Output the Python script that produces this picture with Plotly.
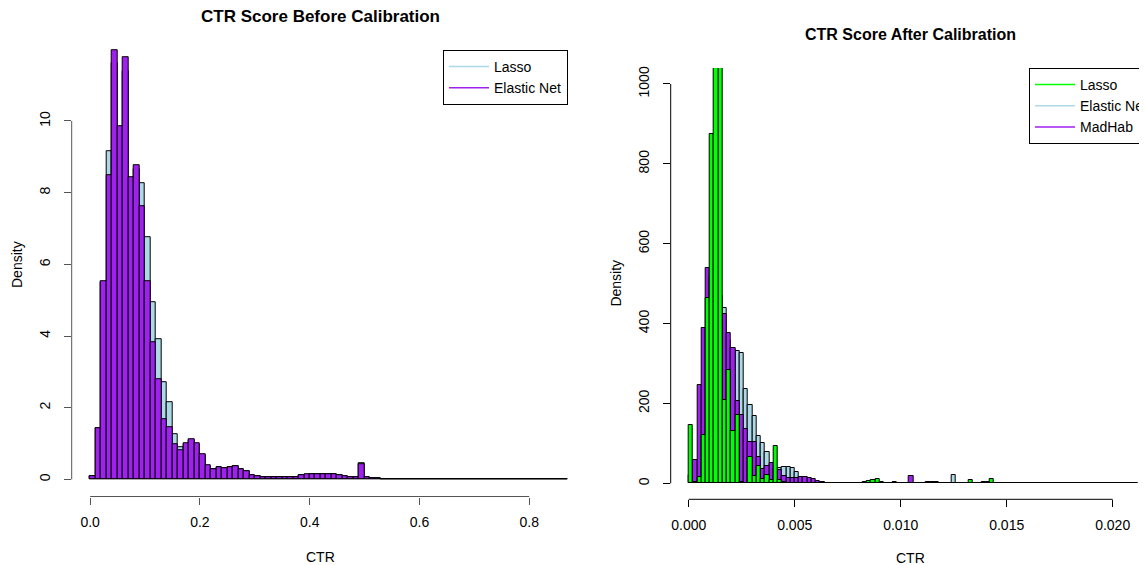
import plotly.graph_objects as go

W, H = 1147, 565
# the page body adds an 8 px margin; positions below are reference pixels,
# converted to figure coordinates by subtracting this offset
OX, OY = 8, 8

# ---------------- data ----------------
# Left panel: CTR score before calibration, bins of width 0.01 starting at 0
LEFT_BIN = 0.01
left_lasso = [
    0.09, 1.42, 5.50, 9.15, 11.60, 9.70, 11.40, 8.35, 8.65, 8.26,
    6.77, 4.93, 3.91, 2.71, 2.14, 1.27, 0.89, 0.98, 1.09, 0.98,
    0.68, 0.38, 0.28, 0.33, 0.31, 0.35, 0.36, 0.29, 0.24, 0.12,
    0.08, 0.07, 0.07, 0.07, 0.06, 0.06, 0.06, 0.07, 0.11, 0.12,
    0.13, 0.14, 0.14, 0.14, 0.13, 0.12, 0.09, 0.07, 0.07, 0.44,
    0.05, 0.03, 0.02, 0.015, 0.012, 0.010, 0.010, 0.009, 0.008, 0.008,
    0.007, 0.007, 0.006, 0.006, 0.006, 0.005, 0.005, 0.005, 0.005, 0.004,
    0.004, 0.004, 0.004, 0.004, 0.003, 0.003, 0.003, 0.003, 0.003, 0.003,
    0.003, 0.002, 0.002, 0.002, 0.002, 0.002, 0.002,
]
left_enet = [
    0.09, 1.42, 5.53, 8.49, 11.97, 9.85, 11.77, 8.44, 8.77, 7.63,
    5.53, 3.83, 2.79, 1.68, 1.46, 0.98, 0.82, 1.00, 1.12, 1.00,
    0.70, 0.39, 0.28, 0.34, 0.31, 0.35, 0.37, 0.29, 0.24, 0.11,
    0.08, 0.07, 0.07, 0.07, 0.06, 0.06, 0.06, 0.07, 0.11, 0.13,
    0.13, 0.14, 0.14, 0.14, 0.13, 0.11, 0.08, 0.07, 0.07, 0.43,
    0.05, 0.03, 0.02, 0.015, 0.012, 0.010, 0.010, 0.009, 0.008, 0.008,
    0.007, 0.007, 0.006, 0.006, 0.006, 0.005, 0.005, 0.005, 0.005, 0.004,
    0.004, 0.004, 0.004, 0.004, 0.003, 0.003, 0.003, 0.003, 0.003, 0.003,
    0.003, 0.002, 0.002, 0.002, 0.002, 0.002, 0.002,
]
left_xticks = [0.0, 0.2, 0.4, 0.6, 0.8]
left_xticktext = ["0.0", "0.2", "0.4", "0.6", "0.8"]
left_yticks = [0, 2, 4, 6, 8, 10]
left_yticktext = ["0", "2", "4", "6", "8", "10"]

# Right panel: CTR score after calibration, bins of width 0.0002 starting at 0
RIGHT_BIN = 0.0002
right_enet = [
    0, 2, 20, 120, 330, 480, 530, 470, 438, 360,
    335, 331, 327, 235, 196, 169, 118, 100, 78, 45,
    35, 39, 42, 42, 38, 28, 12, 8, 5, 4,
    3, 3, 2, 2, 2, 2, 2, 1, 1, 1,
    1, 2, 2, 2, 1, 1, 1, 1, 1, 1,
    1, 1, 1, 1, 1, 1, 4, 4, 4, 1,
    1, 1, 21, 1, 1, 1, 1, 1, 1, 1,
    1, 1, 1, 1, 1, 1, 1, 1, 1, 1,
    1, 1, 1, 1, 1, 1, 1, 1, 1, 1,
    1, 1, 1, 1, 1, 1, 1, 1, 1, 1,
    1, 1, 1, 1, 1, 1,
]
right_madhab = [
    20, 58, 246, 389, 540, 520, 470, 430, 424, 376,
    338, 205, 171, 135, 104, 104, 66, 37, 44, 52,
    38, 33, 19, 14, 14, 14, 17, 17, 14, 11,
    6, 4, 2, 2, 2, 1, 1, 1, 1, 1,
    1, 2, 2, 2, 2, 4, 1, 1, 4, 1,
    1, 1, 19, 1, 1, 1, 1, 1, 1, 1,
    1, 1, 1, 1, 1, 1, 1, 1, 1, 1,
    1, 1, 1, 1, 1, 1, 1, 1, 1, 1,
    1, 1, 1, 1, 1, 1, 1, 1, 1, 1,
    1, 1, 1, 1, 1, 1, 1, 1, 1, 1,
    1, 1, 1, 1, 1, 1,
]
right_lasso = [
    145, 4, 15, 122, 464, 875, 1150, 1150, 209, 285,
    130, 171, 4, 0, 67, 18, 44, 11, 20, 8,
    94, 8, 4, 2, 0, 0, 0, 0, 0, 0,
    0, 0, 0, 0, 0, 0, 0, 0, 0, 0,
    2, 3, 7, 8, 11, 2, 0, 0, 0, 0,
    0, 0, 0, 0, 0, 0, 0, 0, 0, 0,
    0, 0, 0, 0, 0, 0, 8, 0, 0, 4,
    4, 12, 1, 0, 0, 0, 0, 0, 0, 0,
    0, 0, 0, 0, 0, 0, 0, 0, 0, 0,
    0, 0, 0, 0, 0, 0, 0, 0, 0, 0,
    0, 0, 0, 0, 0, 0,
]
right_xticks = [0.0, 0.005, 0.010, 0.015, 0.020]
right_xticktext = ["0.000", "0.005", "0.010", "0.015", "0.020"]
right_yticks = [0, 200, 400, 600, 800, 1000]
right_yticktext = ["0", "200", "400", "600", "800", "1000"]

# ---------------- styles ----------------
LIGHTBLUE = "#ADD8E6"
PURPLE = "#A020F0"
GREEN = "#00FF00"
FONT = "Liberation Sans, Arial, Helvetica, sans-serif"
LEFT_AXIS_COLOR = "#555555"


def px(x):
    return (x - OX) / W


def py(y):
    return 1 - (y - OY) / H


def centers(vals, width):
    return [width * (i + 0.5) for i in range(len(vals))]


fig = go.Figure()

bar_line = dict(color="black", width=1)

# left panel bars (Lasso drawn first, Elastic Net on top)
fig.add_trace(go.Bar(x=centers(left_lasso, LEFT_BIN), y=left_lasso, width=LEFT_BIN,
                     marker=dict(color=LIGHTBLUE, line=bar_line),
                     xaxis="x", yaxis="y", showlegend=False, hoverinfo="skip"))
fig.add_trace(go.Bar(x=centers(left_enet, LEFT_BIN), y=left_enet, width=LEFT_BIN,
                     marker=dict(color=PURPLE, line=bar_line),
                     xaxis="x", yaxis="y", showlegend=False, hoverinfo="skip"))

# right panel bars (Elastic Net, then MadHab, then Lasso on top)
fig.add_trace(go.Bar(x=centers(right_enet, RIGHT_BIN), y=right_enet, width=RIGHT_BIN,
                     marker=dict(color=LIGHTBLUE, line=bar_line),
                     xaxis="x2", yaxis="y2", showlegend=False, hoverinfo="skip"))
fig.add_trace(go.Bar(x=centers(right_madhab, RIGHT_BIN), y=right_madhab, width=RIGHT_BIN,
                     marker=dict(color=PURPLE, line=bar_line),
                     xaxis="x2", yaxis="y2", showlegend=False, hoverinfo="skip"))
fig.add_trace(go.Bar(x=centers(right_lasso, RIGHT_BIN), y=right_lasso, width=RIGHT_BIN,
                     marker=dict(color=GREEN, line=bar_line),
                     xaxis="x2", yaxis="y2", showlegend=False, hoverinfo="skip"))

# legend entries (line keys, like base R legend)
for name, col in [("Lasso", LIGHTBLUE), ("Elastic Net", PURPLE)]:
    fig.add_trace(go.Scatter(x=[None], y=[None], mode="lines", name=name,
                             line=dict(color=col, width=1.5),
                             xaxis="x", yaxis="y", legend="legend"))
for name, col in [("Lasso", GREEN), ("Elastic Net", LIGHTBLUE), ("MadHab", PURPLE)]:
    fig.add_trace(go.Scatter(x=[None], y=[None], mode="lines", name=name,
                             line=dict(color=col, width=1.5),
                             xaxis="x2", yaxis="y2", legend="legend2"))

tickfont = dict(family=FONT, size=14, color="black")

common_axis = dict(showgrid=False, zeroline=False, showline=False, ticks="outside",
                   ticklen=7, tickwidth=1, tickfont=tickfont, fixedrange=True)

fig.update_layout(
    width=W, height=H,
    margin=dict(l=0, r=0, t=0, b=0, autoexpand=False),
    paper_bgcolor="white", plot_bgcolor="white",
    barmode="overlay", bargap=0,
    font=dict(family=FONT, size=14, color="black"),
    xaxis=dict(domain=[px(71.7), px(569.1)], range=[-0.0336, 0.8726], anchor="y",
               tickvals=left_xticks, ticktext=left_xticktext, tickcolor=LEFT_AXIS_COLOR,
               ticklabelstandoff=6, **common_axis),
    yaxis=dict(domain=[py(496.5), py(33.2)], range=[-0.479, 12.45], anchor="x",
               tickvals=left_yticks, ticktext=left_yticktext, tickcolor=LEFT_AXIS_COLOR,
               tickangle=-90, ticklabelstandoff=8, **common_axis),
    xaxis2=dict(domain=[px(670.7), min(1.0, px(1155))], range=[-0.00085, 0.02162 + 8 / 21200], anchor="y2",
                tickvals=right_xticks, ticktext=right_xticktext, tickcolor="black",
                ticklabelstandoff=6, **common_axis),
    yaxis2=dict(domain=[py(499.3), py(68)], range=[-40, 1040], anchor="x2",
                tickvals=right_yticks, ticktext=right_yticktext, tickcolor="black",
                tickangle=-90, ticklabelstandoff=8, **common_axis),
    legend=dict(x=px(443), y=py(50), xanchor="left", yanchor="top",
                bordercolor="black", borderwidth=1, bgcolor="white", itemwidth=40,
                font=dict(family=FONT, size=14, color="black"), tracegroupgap=0),
    legend2=dict(x=px(1029), y=py(68), xanchor="left", yanchor="top",
                 bordercolor="black", borderwidth=1, bgcolor="white", itemwidth=40,
                 font=dict(family=FONT, size=14, color="black"), tracegroupgap=0),
)

# R-style axis lines spanning first to last tick
fig.add_shape(type="line", xref="x", yref="y domain", x0=left_xticks[0], x1=left_xticks[-1],
              y0=0, y1=0, line=dict(color=LEFT_AXIS_COLOR, width=1))
fig.add_shape(type="line", xref="x domain", yref="y", x0=0, x1=0,
              y0=left_yticks[0], y1=left_yticks[-1], line=dict(color=LEFT_AXIS_COLOR, width=1))
fig.add_shape(type="line", xref="x2", yref="y2 domain", x0=right_xticks[0], x1=right_xticks[-1],
              y0=0, y1=0, line=dict(color="black", width=1))
fig.add_shape(type="line", xref="x2 domain", yref="y2", x0=0, x1=0,
              y0=right_yticks[0], y1=right_yticks[-1], line=dict(color="black", width=1))

# titles and axis labels
ann = []
ann.append(dict(text="<b>CTR Score Before Calibration</b>", x=px(320.4), y=py(16),
                font=dict(family=FONT, size=17, color="black")))
ann.append(dict(text="<b>CTR Score After Calibration</b>", x=px(910), y=py(34),
                font=dict(family=FONT, size=16, color="black")))
ann.append(dict(text="CTR", x=px(320.4), y=py(557), font=dict(family=FONT, size=14)))
ann.append(dict(text="CTR", x=px(910), y=py(558), font=dict(family=FONT, size=14)))
ann.append(dict(text="Density", x=px(17), y=py(265), textangle=-90, font=dict(family=FONT, size=14)))
ann.append(dict(text="Density", x=px(616), y=py(283.6), textangle=-90, font=dict(family=FONT, size=14)))
for a in ann:
    a.update(xref="paper", yref="paper", xanchor="center", yanchor="middle", showarrow=False)
fig.update_layout(annotations=ann)

fig.write_html("out.html")
